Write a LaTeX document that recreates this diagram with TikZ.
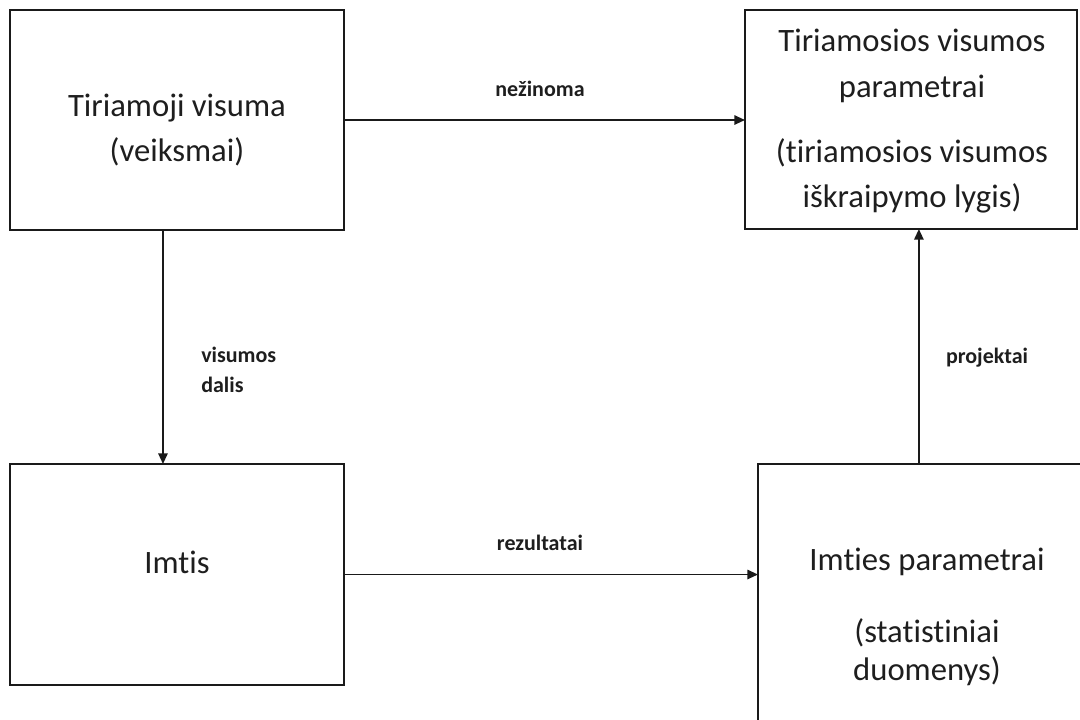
\documentclass[tikz,border=0pt]{standalone}
\usepackage{fontspec}
\setmainfont{Carlito}[Ligatures={NoCommon,NoContextual}]
\usetikzlibrary{arrows.meta,calc}

\definecolor{ink}{HTML}{1A1A1A}
\definecolor{txt}{HTML}{1E1E1E}

\tikzset{
  box/.style={draw=ink, line width=1.4pt, fill=white, inner sep=0pt, outer sep=0pt},
  boxtext/.style={text=txt, align=center, inner sep=0pt,
    font=\fontsize{24.5}{34}\selectfont},
  lbl/.style={text=txt, inner sep=0pt, font=\fontsize{16.5}{22.5}\selectfont\bfseries},
  arr/.style={draw=ink, line width=1.4pt, -{Triangle[length=8pt,width=7pt]}},
}

\begin{document}
\begin{tikzpicture}[x=0.75pt, y=-0.75pt]
  \useasboundingbox (0,0) rectangle (1080,719);
  \clip (0,0) rectangle (1080,719);

  % the four boxes (pixel coordinates, y downwards)
  \node[box, minimum width=250.5pt, minimum height=165pt] (A) at (177,120) {};
  \node[box, minimum width=249pt, minimum height=164.25pt] (B) at (911,119.5) {};
  \node[box, minimum width=250.5pt, minimum height=165.75pt] (C) at (177,574.5) {};
  \node[box, minimum width=253.5pt, minimum height=225pt] (D) at (927,614) {};

  % box contents
  \node[boxtext] (At) at (177,130) {Tiriamoji visuma\\(veiksmai)};
  \node[boxtext] (Bt) at (912,121.5) {Tiriamosios visumos\\parametrai\\[15pt](tiriamosios visumos\\iškraipymo lygis)};
  \node[boxtext] (Ct) at (177,562) {Imtis};
  \node[boxtext, font=\fontsize{24.5}{28.5}\selectfont] (Dt) at (927,617) {Imties parametrai\\[25.5pt](statistiniai\\duomenys)};

  % connectors
  \draw[arr] (A.east) -- (A.east -| B.west);
  \coordinate (pA) at ($(A.south west)!0.458!(A.south east)$);
  \draw[arr] (pA) -- (pA |- C.north);
  \draw[arr] (C.east) -- (C.east -| D.west);
  \coordinate (pD) at ($(D.north west)!0.476!(D.north east)$);
  \draw[arr] (pD) -- (pD |- B.south);

  % connector labels
  \node[lbl] (l1) at (540,89) {nežinoma};
  \node[lbl] (l2) at (540,543) {rezultatai};
  \node[lbl, align=left, anchor=west] (l3) at (201,370) {visumos\\dalis};
  \node[lbl] (l4) at (987,358) {projektai};
\end{tikzpicture}
\end{document}
